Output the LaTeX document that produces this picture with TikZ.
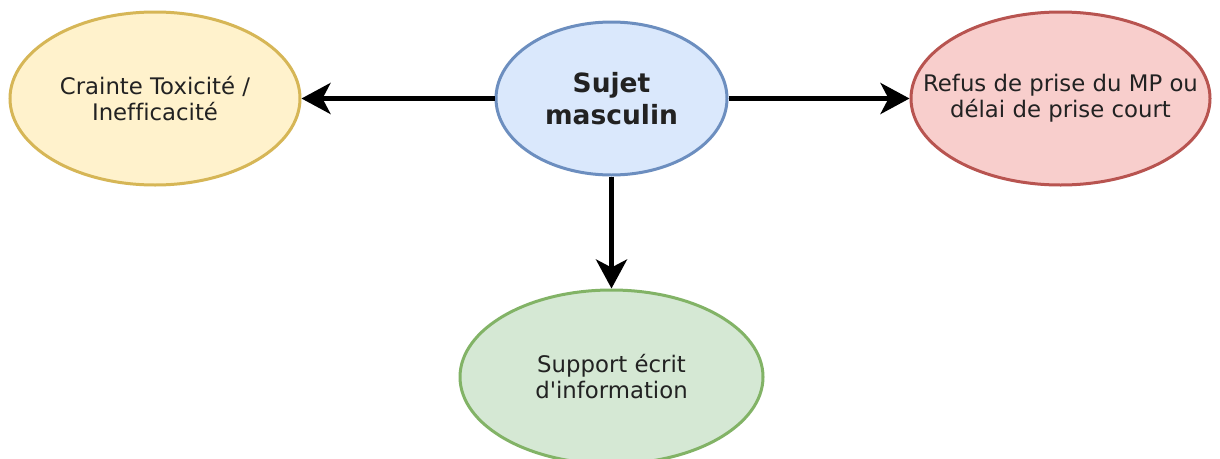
\documentclass[tikz,border=0pt]{standalone}
\usepackage{fontspec}
\newfontfamily\dv{DejaVu Sans}[Ligatures=NoCommon]
\usetikzlibrary{shapes.geometric,arrows.meta}
\definecolor{ylwfill}{HTML}{FFF2CC}\definecolor{ylwdraw}{HTML}{D6B656}
\definecolor{bluefill}{HTML}{DAE8FC}\definecolor{bluedraw}{HTML}{6C8EBF}
\definecolor{redfill}{HTML}{F8CECC}\definecolor{reddraw}{HTML}{B85450}
\definecolor{grnfill}{HTML}{D5E8D4}\definecolor{grndraw}{HTML}{82B366}
\definecolor{txt}{HTML}{222222}
\tikzset{
  bubble/.style={ellipse, line width=3pt, inner sep=0pt},
  lbl/.style={align=center, text=txt, font=\dv\fontsize{22.8}{26}\selectfont},
  conn/.style={line width=4.6pt, -{Stealth[length=29pt, width=31pt, inset=8pt]}},
}
\begin{document}
\begin{tikzpicture}[x=1pt, y=-1pt]
\useasboundingbox (0,0) rectangle (1220,458);
\clip (0,0) rectangle (1220,458);
\fill[white] (0,0) rectangle (1220,458);
\node[bubble, draw=bluedraw, fill=bluefill, minimum width=231pt, minimum height=153pt,
  label={[lbl, font=\dv\bfseries\fontsize{26.5}{32}\selectfont]center:Sujet\\masculin}] (c) at (611.5,98.5) {};
\node[bubble, draw=ylwdraw, fill=ylwfill, minimum width=290pt, minimum height=173pt,
  label={[lbl]center:Crainte Toxicité /\\Inefficacité}] (l) at (155,98.5) {};
\node[bubble, draw=reddraw, fill=redfill, minimum width=299pt, minimum height=173pt,
  label={[lbl]center:Refus de prise du MP ou\\délai de prise court}] (r) at (1060.5,98.5) {};
\node[bubble, draw=grndraw, fill=grnfill, minimum width=303pt, minimum height=174pt,
  label={[lbl]center:Support écrit\\d'information}] (b) at (611.5,377) {};
\draw[conn] (c.west) -- (l.east);
\draw[conn] (c.east) -- (r.west);
\draw[conn] (c.south) -- (b.north);
\end{tikzpicture}
\end{document}
